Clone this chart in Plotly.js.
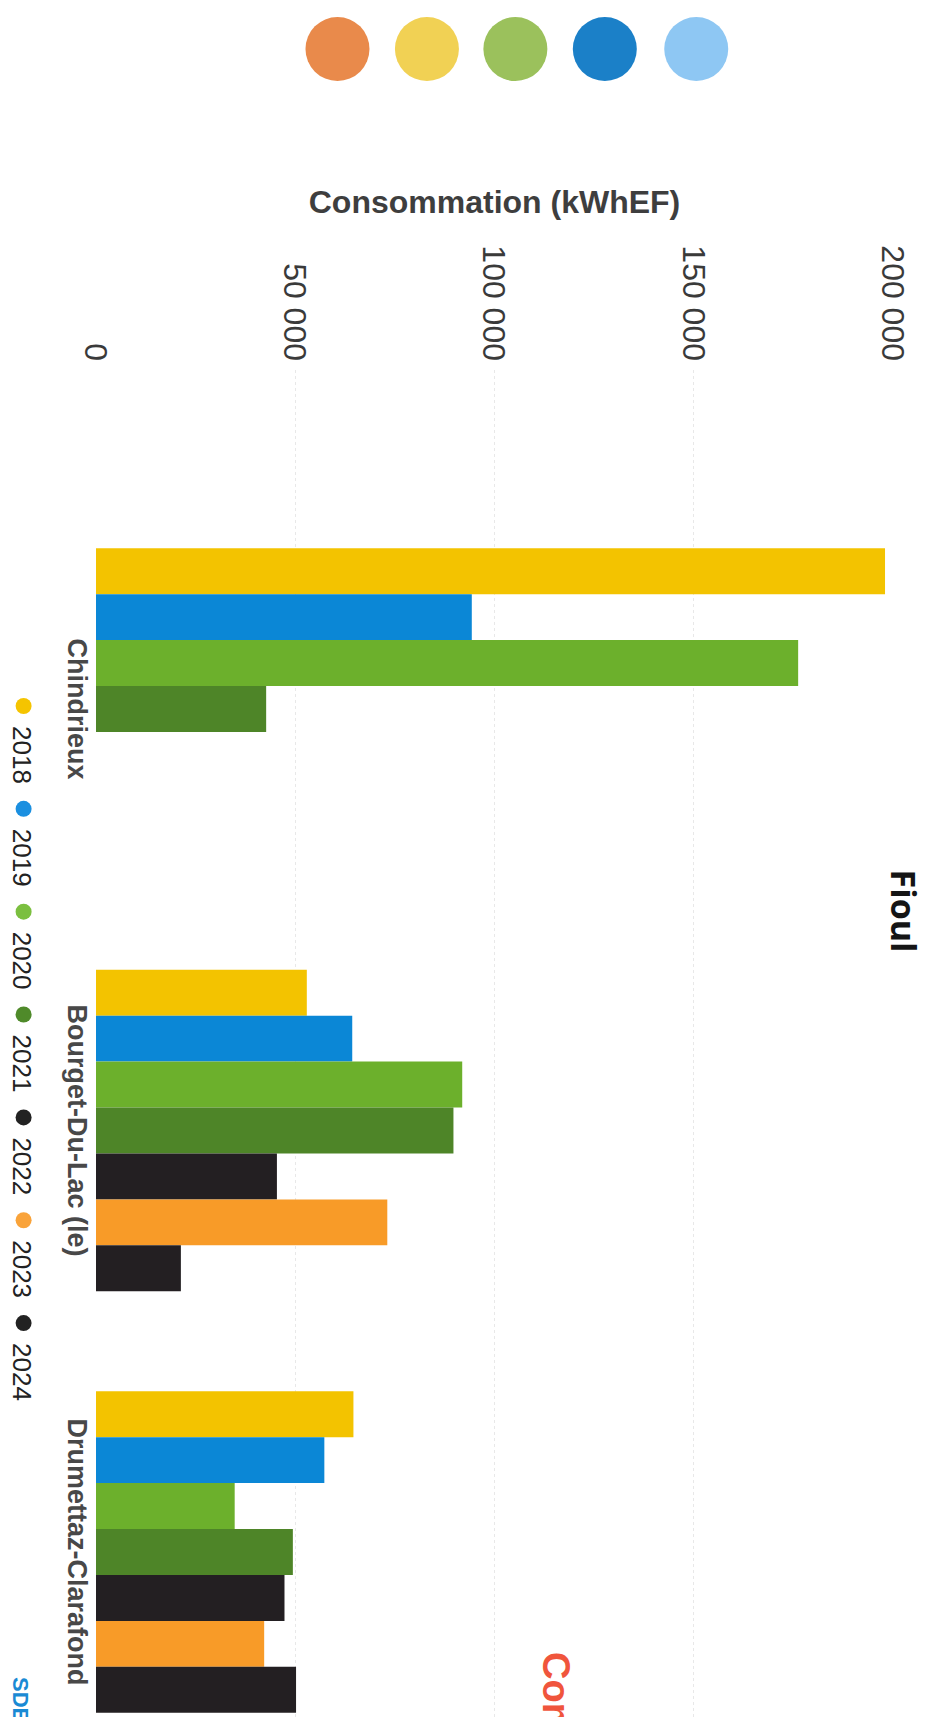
<!DOCTYPE html>
<html>
<head>
<meta charset="utf-8">
<script src="https://cdn.plot.ly/plotly-3.0.1.min.js"></script>
<style>
  html, body { margin: 0; padding: 0; background: #ffffff; overflow: hidden; }
  body { width: 926px; height: 1717px; position: relative; }
  #wrap {
    position: absolute; left: 0; top: 0;
    width: 1717px; height: 926px;
    transform-origin: 0 0;
    transform: translate(926px, 0) rotate(90deg);
  }
  #chart { width: 1717px; height: 926px; }
</style>
</head>
<body>
<div id="wrap"><div id="chart"></div></div>
<script>
// ---- data ----
const categories = ["Chindrieux", "Bourget-Du-Lac (le)", "Drumettaz-Clarafond"];
const years = ["2018", "2019", "2020", "2021", "2022", "2023", "2024"];
const v2018 = [198000, 52900, 64600];
const v2019 = [94300, 64300, 57300];
const v2020 = [176200, 91900, 34800];
const v2021 = [42700, 89700, 49400];
const v2022 = [null, 45400, 47300];
const v2023 = [null, 73100, 42200];
const v2024 = [null, 21300, 50200];
const yearColors = ["#f3c300", "#0b87d6", "#6cb02c", "#4e8528", "#231f22", "#f89b28", "#231f22"];
const legendColors = ["#f5c400", "#1a8fe0", "#7bbf3f", "#4f8a2a", "#222222", "#f9a33a", "#222222"];
const valueTicks = [0, 50000, 100000, 150000, 200000];
const decoColors = ["#e98a4b", "#f1d154", "#9bc15c", "#1b80c8", "#8ec7f3"];

const series = [v2018, v2019, v2020, v2021, v2022, v2023, v2024];

// ---- geometry (unrotated frame: 1717 x 926) ----
const W = 1717, H = 926;
const M = { l: 370, r: 0, t: 33, b: 91 };
const pw = W - M.l - M.r, ph = H - M.t - M.b;
const px = X => (X - M.l) / pw;
const py = Y => ((H - M.b) - Y) / ph;

const traces = [];
series.forEach((vals, i) => {
  traces.push({
    type: "bar",
    x: categories,
    y: vals,
    name: years[i],
    marker: { color: yearColors[i], line: { width: 0 } },
    showlegend: false,
    hoverinfo: "skip"
  });
});
series.forEach((vals, i) => {
  traces.push({
    type: "scatter",
    mode: "markers",
    x: [null],
    y: [null],
    name: years[i],
    marker: { color: legendColors[i], size: 16, symbol: "circle" },
    showlegend: true,
    hoverinfo: "skip"
  });
});

const shapes = decoColors.map((c, i) => ({
  type: "circle",
  xref: "paper", yref: "paper",
  xsizemode: "pixel", ysizemode: "pixel",
  xanchor: px(49), yanchor: py([592, 502, 413, 323, 231][i]),
  x0: -32, x1: 32, y0: -32, y1: 32,
  fillcolor: c, line: { width: 0 }
}));

const layout = {
  width: W, height: H,
  margin: M,
  paper_bgcolor: "#ffffff",
  plot_bgcolor: "#ffffff",
  separators: ", ",
  barmode: "group",
  bargap: 0.237,
  bargroupgap: 0,
  font: { family: "Liberation Sans, Arial, sans-serif", color: "#444444" },
  title: {
    text: "Fioul",
    x: 911 / W, xanchor: "center", xref: "container",
    y: 1 - 23 / H, yanchor: "middle", yref: "container",
    font: { family: "Open Sans, sans-serif", size: 34, weight: 700, color: "#151515" }
  },
  xaxis: {
    type: "category",
    range: [(M.l - 709) / 421.5, (W - 709) / 421.5],
    showgrid: false, zeroline: false, showline: false,
    ticks: "",
    tickfont: { family: "Liberation Sans, Arial, sans-serif", size: 27, weight: 700, color: "#484848" },
    automargin: false
  },
  yaxis: {
    range: [0, 200000],
    tickvals: valueTicks,
    tickformat: ",d",
    showgrid: true, gridcolor: "#e8e8e8", griddash: "dot", gridwidth: 1,
    zeroline: false, showline: false, ticks: "",
    ticklabelstandoff: 8,
    tickfont: { family: "Liberation Sans, Arial, sans-serif", size: 32, color: "#3a3a3a" },
    title: {
      text: "Consommation (kWhEF)",
      standoff: 22,
      font: { family: "Liberation Sans, Arial, sans-serif", size: 32, weight: 700, color: "#3e3e3e" }
    },
    automargin: false
  },
  legend: {
    orientation: "h",
    x: px(686), xanchor: "left",
    y: py(908), yanchor: "middle",
    font: { family: "Liberation Sans, Arial, sans-serif", size: 26, color: "#222222" },
    bgcolor: "rgba(0,0,0,0)",
    traceorder: "normal"
  },
  shapes: shapes,
  annotations: [
    {
      xref: "paper", yref: "paper",
      x: px(1650), xanchor: "left",
      y: py(372), yanchor: "middle",
      text: "Com", showarrow: false,
      font: { family: "Liberation Sans, Arial, sans-serif", size: 38, weight: 700, color: "#f0553c" }
    },
    {
      xref: "paper", yref: "paper",
      x: px(1675), xanchor: "left",
      y: py(911), yanchor: "middle",
      text: "SDE", showarrow: false,
      font: { family: "Liberation Sans, Arial, sans-serif", size: 22, weight: 700, color: "#1a8ad4" }
    }
  ]
};

Plotly.newPlot("chart", traces, layout, { staticPlot: true, displayModeBar: false });
</script>
</body>
</html>
